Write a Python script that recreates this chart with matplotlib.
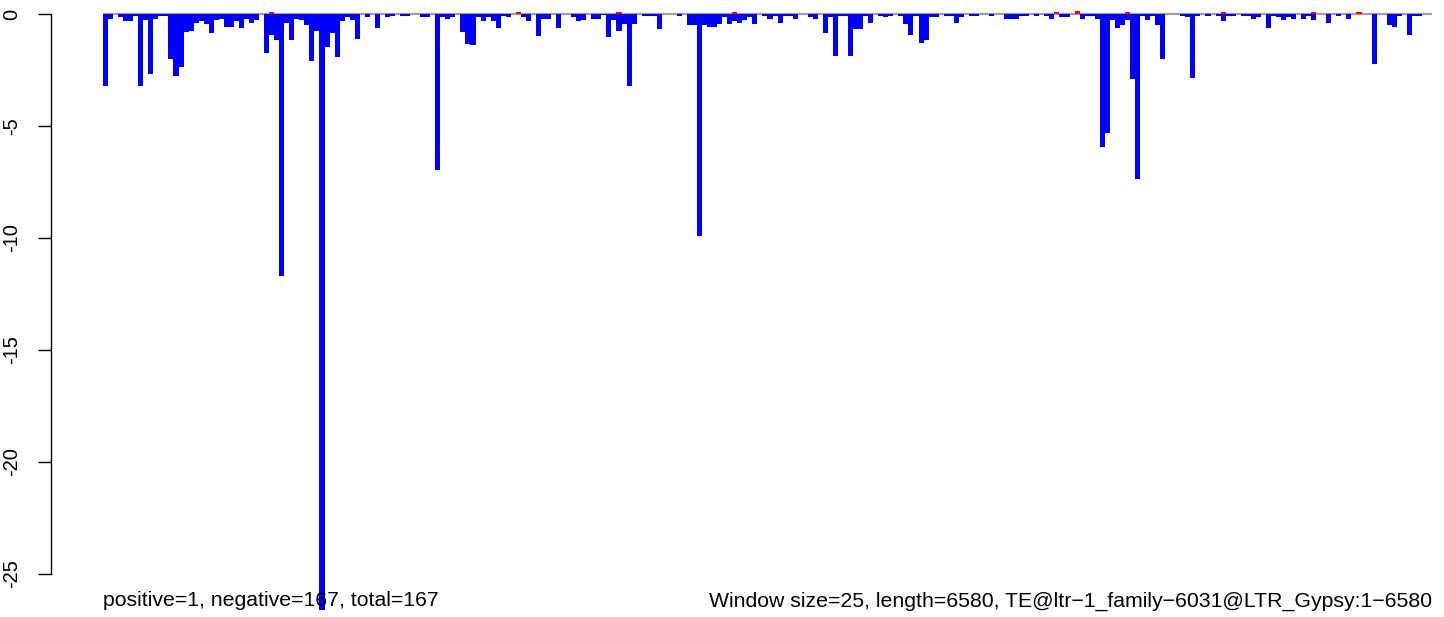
import numpy as np
import matplotlib
matplotlib.use("Agg")
from matplotlib import pyplot as plt

plt.rcParams['font.family'] = ['Liberation Sans', 'DejaVu Sans']

# coverage per 25-nt window, negative strand (264 windows)
neg = [
    -3.21, -0.22, 0, -0.13, -0.31, -0.31, -0.09, -3.21, -0.28, -2.68,
    -0.22, -0.09, -0.09, -2.0, -2.77, -2.37, -0.80, -0.76, -0.40, -0.33,
    -0.45, -0.85, -0.27, -0.22, -0.58, -0.58, -0.31, -0.63, -0.22, -0.40,
    -0.27, 0, -1.74, -0.94, -1.16, -11.7, -0.40, -1.16, -0.22, -0.27,
    -0.49, -2.10, -0.76, -26.6, -1.47, -0.85, -1.92, -0.31, -0.13, -0.27,
    -1.12, 0, -0.13, 0, -0.63, 0, -0.13, -0.09, 0, -0.09,
    -0.09, 0, 0, -0.13, -0.13, 0, -6.96, -0.13, -0.22, -0.13,
    0, -0.80, -1.34, -1.38, -0.13, -0.31, -0.13, -0.31, -0.63, -0.09,
    -0.13, 0, 0, -0.13, -0.31, 0, -0.98, -0.22, -0.22, 0,
    -0.63, 0, 0, -0.13, -0.31, -0.27, 0, -0.22, -0.22, -0.05,
    -1.03, -0.27, -0.76, -0.45, -3.21, -0.45, 0, -0.09, -0.09, -0.09,
    -0.67, 0, 0, 0, -0.09, 0, -0.49, -0.49, -9.91, -0.49,
    -0.58, -0.58, -0.45, -0.13, -0.45, -0.31, -0.40, -0.27, -0.13, -0.45,
    0, -0.09, -0.22, -0.09, -0.40, -0.09, -0.09, -0.22, 0, 0,
    -0.13, -0.22, 0, -0.85, -0.13, -1.87, -0.09, -0.09, -1.87, -0.67,
    -0.67, -0.09, -0.40, 0, -0.09, -0.13, -0.09, 0, -0.09, -0.45,
    -0.94, -0.09, -1.29, -1.16, -0.13, -0.13, 0, -0.09, -0.09, -0.40,
    -0.13, 0, -0.09, -0.09, 0, 0, -0.09, 0, 0, -0.22,
    -0.22, -0.22, -0.09, -0.09, 0, -0.09, 0, -0.09, -0.22, 0,
    -0.13, -0.13, 0, 0, -0.22, -0.09, -0.09, -0.22, -5.94, -5.31,
    -0.27, -0.63, -0.49, -0.27, -2.90, -7.37, -0.09, -0.27, -0.09, -0.49,
    -2.0, 0, 0, 0, -0.09, -0.13, -2.85, -0.09, 0, -0.09,
    0, -0.09, -0.31, -0.09, -0.09, 0, -0.09, -0.09, -0.22, -0.13,
    0, -0.63, -0.09, -0.13, -0.27, -0.13, -0.22, 0, -0.22, -0.09,
    -0.27, 0, 0, -0.40, 0, -0.09, 0, -0.22, 0, 0,
    0, 0, -2.23, 0, 0, -0.49, -0.58, -0.09, 0, -0.94,
    -0.09, -0.09, 0, 0,
]

# positive strand: only a few windows have any coverage
pos_windows = [33, 82, 102, 125, 189, 193, 203, 222, 240, 249]
pos_values = [0.1, 0.1, 0.1, 0.1, 0.1, 0.15, 0.1, 0.1, 0.1, 0.1]

yticks = [0, -5, -10, -15, -20, -25]
left_label = "positive=1, negative=167, total=167"
right_label = "Window size=25, length=6580, TE@ltr\u22121_family\u22126031@LTR_Gypsy:1\u22126580"

W, H = 1444, 617
n = len(neg)
x = np.arange(n)
pos = np.zeros(n)
pos[pos_windows] = pos_values

fig = plt.figure(figsize=(W / 100, H / 100), dpi=100)
ax = fig.add_axes([51 / W, 0, (1440 - 51) / W, 1])

ax.hlines(0, 0, n, color='#a0a0a0', lw=1.6, zorder=1)
ax.bar(x, neg, width=1, align='edge', color='#0000ff', linewidth=0, zorder=2)
ax.bar(x, pos, width=1, align='edge', color='#ff0000', linewidth=0, zorder=2)

# map pixels: bars from x=103 to 1432, y=0 at row 14, y=-25 at row 574
px_x = (1432 - 103) / n
px_y = (574 - 14) / 25
ax.set_xlim(-(103 - 51) / px_x, (1440 - 103) / px_x)
ax.set_ylim(-(H - 14) / px_y, 14 / px_y)

for s in ['top', 'right', 'bottom']:
    ax.spines[s].set_visible(False)
ax.spines['left'].set_bounds(-25, 0)
ax.spines['left'].set_linewidth(1)
ax.set_xticks([])
ax.set_yticks(yticks)
ax.set_yticklabels([str(t) for t in yticks])
ax.tick_params(axis='y', length=9.4, width=1, pad=12, labelsize=14.5, labelrotation=90)
for lab in ax.get_yticklabels():
    lab.set_va('center')

fig.text(103 / W, 1 - 601 / H, left_label, ha='left', va='center', fontsize=15.3)
fig.text(1432 / W, 1 - 601 / H, right_label, ha='right', va='center', fontsize=15.3)

fig.savefig("out.png", dpi=100)
